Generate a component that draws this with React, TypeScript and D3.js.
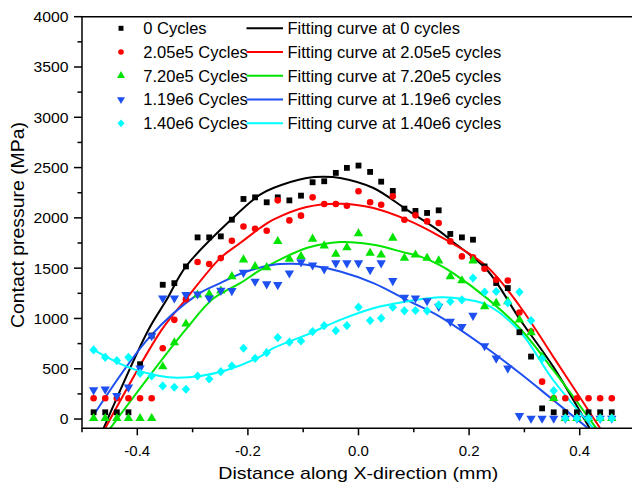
import React from "react";
import * as d3 from "d3";

// ---------- data ----------
const xPositions = [
  -0.479, -0.458, -0.437, -0.416, -0.395, -0.374, -0.354, -0.333, -0.312, -0.291,
  -0.270, -0.249, -0.229, -0.208, -0.187, -0.166, -0.146, -0.125, -0.104, -0.083,
  -0.062, -0.041, -0.021, 0.000, 0.021, 0.041, 0.062, 0.083, 0.103, 0.124,
  0.145, 0.166, 0.187, 0.207, 0.228, 0.249, 0.270, 0.291, 0.312, 0.332,
  0.353, 0.374, 0.395, 0.416, 0.437, 0.458,
];

const cycles0 = [
  67, 67, 67, 67, 545, 830, 1335, 1351, 1517, 1806,
  1806, 1816, 1982, 2188, 2204, 2155, 2204, 2174, 2221, 2354,
  2364, 2447, 2497, 2520, 2457, 2360, 2268, 2092, 2069, 2049,
  2075, 1840, 1806, 1783, 1517, 1352, 1302, 863, 621, 106,
  67, 67, 67, 67, 67, 67,
];
const cycles205e5 = [
  206, 206, 206, 206, 206, 206, 704, 986, 1192, 1561,
  1541, 1600, 1773, 1915, 1892, 1872, 2174, 1975, 2022, 2204,
  2138, 2138, 2121, 2264, 2155, 2131, 2214, 1982, 2025, 1965,
  1949, 1766, 1617, 1607, 1494, 1384, 1377, 1059, 870, 372,
  206, 206, 206, 206, 206, 206,
];
const cycles720e5 = [
  7, 7, 7, 7, 7, 7, 521, 760, 946, 1235,
  1242, 1275, 1417, 1584, 1517, 1507, 1766, 1591, 1617, 1790,
  1723, 1640, 1706, 1843, 1650, 1633, 1800, 1600, 1633, 1600,
  1574, 1417, 1377, 1574, 1119, 1152, 1169, 986, 860, 621,
  206, 7, 7, 7, 7, 7,
];
const cycles119e6 = [
  289, 296, 232, 316, 505, 827, 1202, 1202, 1235, 1242,
  1202, 1278, 1275, 1457, 1368, 1342, 1335, 1451, 1561, 1530,
  1491, 1551, 1551, 1551, 1484, 1551, 1375, 1208, 1202, 1175,
  1119, 969, 919, 1029, 727, 604, 505, 33, 7, 7,
  7, 7, 7, 7, 7, 7,
];
const cycles140e6 = [
  687, 614, 581, 614, 455, 428, 329, 316, 296, 428,
  398, 471, 528, 704, 604, 660, 810, 764, 777, 870,
  929, 879, 929, 1112, 979, 1003, 1112, 1076, 1079, 1076,
  1135, 1169, 1185, 1401, 1262, 1268, 1155, 1262, 979, 600,
  282, 7, 7, 7, 7, 7,
];

// fitted curves: [x, y]
const fit0: [number, number][] = [
  [-0.461, -92], [-0.380, 886], [-0.347, 1185], [-0.312, 1517], [-0.229, 1989],
  [-0.178, 2231], [-0.154, 2297], [-0.094, 2397], [-0.063, 2410], [-0.033, 2397],
  [0.027, 2297], [0.087, 2082], [0.147, 1866], [0.171, 1760], [0.232, 1484],
  [0.292, 990], [0.352, 521], [0.418, -92],
];
const fit205e5: [number, number][] = [
  [-0.458, -92], [-0.356, 886], [-0.313, 1185], [-0.250, 1600], [-0.214, 1750],
  [-0.178, 1899], [-0.154, 1982], [-0.094, 2108], [-0.033, 2141], [0.027, 2098],
  [0.087, 1982], [0.147, 1816], [0.232, 1517], [0.292, 1119], [0.352, 621],
  [0.437, -92],
];
const fit720e5: [number, number][] = [
  [-0.449, -92], [-0.313, 886], [-0.262, 1200], [-0.214, 1351], [-0.178, 1480],
  [-0.154, 1551], [-0.094, 1700], [-0.033, 1760], [0.027, 1733], [0.087, 1650],
  [0.111, 1617], [0.147, 1530], [0.171, 1450], [0.232, 1202], [0.292, 900],
  [0.352, 488], [0.430, -92],
];
const fit119e6: [number, number][] = [
  [-0.479, 40], [-0.377, 820], [-0.292, 1235], [-0.250, 1351], [-0.211, 1450],
  [-0.154, 1534], [-0.120, 1543], [-0.094, 1534], [-0.033, 1467], [0.027, 1351],
  [0.087, 1185], [0.147, 1019], [0.232, 704], [0.292, 455], [0.352, 189],
  [0.415, -92],
];
const fit140e6: [number, number][] = [
  [-0.479, 687], [-0.419, 521], [-0.359, 428], [-0.328, 411], [-0.286, 428],
  [-0.238, 488], [-0.178, 621], [-0.154, 704], [-0.094, 837], [-0.033, 986],
  [0.027, 1102], [0.087, 1169], [0.147, 1210], [0.171, 1205], [0.232, 1135],
  [0.292, 870], [0.352, 388], [0.425, -92],
];

const seriesNames = ["0 Cycles", "2.05e5 Cycles", "7.20e5 Cycles", "1.19e6 Cycles", "1.40e6 Cycles"];
const fitNames = [
  "Fitting curve at 0 cycles",
  "Fitting curve at 2.05e5 cycles",
  "Fitting curve at 7.20e5 cycles",
  "Fitting curve at 1.19e6 cycles",
  "Fitting curve at 1.40e6 cycles",
];
const seriesValues = [cycles0, cycles205e5, cycles720e5, cycles119e6, cycles140e6];
const fitCurves = [fit0, fit205e5, fit720e5, fit119e6, fit140e6];
const colors = ["#000000", "#ff0000", "#00e400", "#1e4ff0", "#00ffff"];

const xTicksMajor = [-0.4, -0.2, 0.0, 0.2, 0.4];
const xTicksMinor = [-0.5, -0.3, -0.1, 0.1, 0.3, 0.5];
const yTicksMajor = [0, 500, 1000, 1500, 2000, 2500, 3000, 3500, 4000];
const yTicksMinor = [250, 750, 1250, 1750, 2250, 2750, 3250, 3750];

const xTitle = "Distance along X-direction (mm)";
const yTitle = "Contact pressure (MPa)";

// ---------- layout ----------
const W = 632;
const H = 486;
const left = 82;
const right = 635;
const top = 16.7;
const bottom = 428.3;

const diamond = d3.symbolType
  ? null
  : null;

function markerPath(i: number, scale = 1): string {
  const sq = d3.symbol().type(d3.symbolSquare).size(34 * scale * scale)() || "";
  const ci = d3.symbol().type(d3.symbolCircle).size(34 * scale * scale)() || "";
  const tr = d3.symbol().type(d3.symbolTriangle).size(38 * scale * scale)() || "";
  const a = 4.2 * scale;
  const b = 4.6 * scale;
  const di = `M0,${-b}L${a},0L0,${b}L${-a},0Z`;
  return [sq, ci, tr, tr, di][i];
}
const markerRotate = [0, 0, 0, 180, 0];

export default function App() {
  void diamond;
  const x = d3.scaleLinear().domain([-0.5, 0.5]).range([left, right]);
  const y = d3.scaleLinear().domain([-92, 4000]).range([bottom, top]);
  const line = d3
    .line<[number, number]>()
    .x((d) => x(d[0]))
    .y((d) => y(d[1]))
    .curve(d3.curveCatmullRom.alpha(0.5));

  const font = "'Liberation Sans', Arial, sans-serif";
  const legendRows = [28.3, 52.0, 75.7, 99.5, 123.3];

  return (
    <svg
      width={W}
      height={H}
      style={{ position: "absolute", left: 0, top: 0, background: "#fff" }}
      fontFamily={font}
    >
      <defs>
        <clipPath id="plotClip">
          <rect x={left} y={top} width={right - left} height={bottom - top} />
        </clipPath>
      </defs>
      <rect x={0} y={0} width={W} height={H} fill="#fff" />

      {/* fitted curves */}
      <g clipPath="url(#plotClip)">
        {fitCurves.map((c, i) => (
          <path key={i} d={line(c) || ""} fill="none" stroke={colors[i]} strokeWidth={2} />
        ))}
      </g>

      {/* scatter points */}
      <g>
        {seriesValues.map((vals, si) => {
          const path = markerPath(si);
          return (
            <g key={si}>
              {vals.map((v, j) => (
                <path
                  key={j}
                  d={path}
                  fill={colors[si]}
                  transform={`translate(${x(xPositions[j])},${y(v)}) rotate(${markerRotate[si]})`}
                />
              ))}
            </g>
          );
        })}
      </g>

      {/* axes */}
      <g stroke="#000" strokeWidth={1.5}>
        <line x1={left} y1={top} x2={left} y2={bottom + 0.7} />
        <line x1={left} y1={bottom} x2={W} y2={bottom} />
        <line x1={left} y1={top} x2={W} y2={top} />
        {xTicksMajor.map((t) => (
          <line key={"xM" + t} x1={x(t)} x2={x(t)} y1={bottom} y2={bottom + 7} />
        ))}
        {xTicksMinor.map((t) => (
          <line key={"xm" + t} x1={x(t)} x2={x(t)} y1={bottom} y2={bottom + 4} />
        ))}
        {yTicksMajor.map((t) => (
          <line key={"yM" + t} x1={left - 8} x2={left} y1={y(t)} y2={y(t)} />
        ))}
        {yTicksMinor.map((t) => (
          <line key={"ym" + t} x1={left - 4.5} x2={left} y1={y(t)} y2={y(t)} />
        ))}
      </g>

      {/* tick labels */}
      <g fontSize={15} fill="#000">
        {xTicksMajor.map((t) => (
          <text key={"xl" + t} x={x(t)} y={456} textAnchor="middle">
            {d3.format(".1f")(t).replace("−", "-")}
          </text>
        ))}
        {yTicksMajor.map((t) => {
          const s = String(t);
          return (
            <text
              key={"yl" + t}
              x={68.5}
              y={y(t)}
              dy="0.36em"
              textAnchor="end"
              textLength={s.length * 8.75}
              lengthAdjust="spacingAndGlyphs"
            >
              {s}
            </text>
          );
        })}
      </g>

      {/* axis titles */}
      <text
        x={358.3}
        y={478.5}
        textAnchor="middle"
        fontSize={17}
        textLength={280}
        lengthAdjust="spacingAndGlyphs"
      >
        {xTitle}
      </text>
      <text
        transform={`translate(23.5,225) rotate(-90)`}
        textAnchor="middle"
        fontSize={18}
        textLength={206}
        lengthAdjust="spacingAndGlyphs"
      >
        {yTitle}
      </text>

      {/* legend */}
      <g fontSize={16.5}>
        {seriesNames.map((name, i) => {
          const path = markerPath(i, 0.85);
          const ly = legendRows[i];
          return (
            <g key={name}>
              <path d={path} fill={colors[i]} transform={`translate(121,${ly}) rotate(${markerRotate[i]})`} />
              <text x={143.3} y={ly} dy="0.36em">
                {name}
              </text>
              <line x1={246.5} x2={283} y1={ly} y2={ly} stroke={colors[i]} strokeWidth={2} />
              <text x={287.5} y={ly} dy="0.36em">
                {fitNames[i]}
              </text>
            </g>
          );
        })}
      </g>
    </svg>
  );
}
